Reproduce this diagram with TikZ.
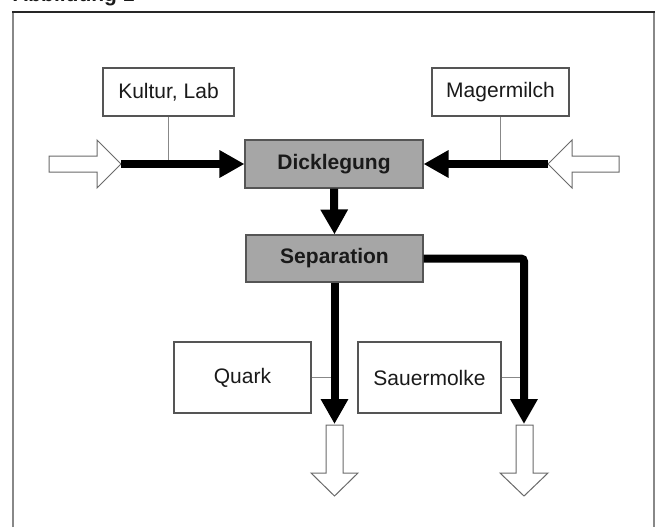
\documentclass[tikz,border=0pt]{standalone}
\usepackage{fontspec}
\setmainfont{Liberation Sans}
\usetikzlibrary{arrows.meta}
\definecolor{boxgray}{HTML}{A6A6A6}
\definecolor{edgegray}{HTML}{555555}
\definecolor{thingray}{HTML}{888888}
\definecolor{hollowgray}{HTML}{6A6A6A}
\definecolor{txt}{HTML}{1A1A1A}
\begin{document}
\begin{tikzpicture}[x=1pt,y=-1pt,
  font=\fontsize{21}{24}\selectfont,
  box/.style={draw=edgegray,line width=1.1pt,fill=white,text=txt,inner sep=0pt},
  procbox/.style={box,fill=boxgray,font=\fontsize{21}{24}\selectfont\bfseries},
  flow/.style={line width=8pt,-{Triangle[length=25pt,width=26pt]}},
  thinline/.style={draw=thingray,line width=1pt},
  hollow/.style={draw=hollowgray,line width=1pt,fill=white,line join=miter},
  frameline/.style={line width=2pt}]
\useasboundingbox (0,0) rectangle (655,527);
% heading (cropped at top)
\node[anchor=base west,inner sep=0pt,font=\fontsize{21}{24}\selectfont\bfseries,text=txt] (title) at (13,2) {Abbildung 1};
% frame
\draw[frameline,draw=thingray] (13,527) -- (13,12);
\draw[frameline,draw=thingray] (654,12) -- (654,527);
\draw[frameline,draw=black!85] (12,12) -- (655,12);
% nodes
\node[box,minimum width=131pt,minimum height=48pt] (kultur) at (168.5,92) {Kultur, Lab};
\node[box,minimum width=137pt,minimum height=48pt] (mager) at (500.5,92) {Magermilch};
\node[procbox,minimum width=178pt,minimum height=48pt] (dick) at (334,164) {Dicklegung};
\node[procbox,minimum width=177pt,minimum height=47pt] (sep) at (334.5,258.5) {Separation};
\node[box,minimum width=137pt,minimum height=71pt] (quark) at (242.5,377.5) {Quark};
\node[box,minimum width=143pt,minimum height=71pt] (molke) at (429.5,377.5) {Sauermolke};
% hollow input/output arrows
\draw[hollow] (49,156) -- (97,156) -- (97,140) -- (121,164) -- (97,188) -- (97,172) -- (49,172) -- cycle;
\coordinate (inL) at (121,164);
\draw[hollow] (619,156) -- (572,156) -- (572,140) -- (548,164) -- (572,188) -- (572,172) -- (619,172) -- cycle;
\coordinate (inR) at (548,164);
\draw[hollow] (326,425) -- (343,425) -- (343,473) -- (358,473) -- (334.5,496) -- (311,473) -- (326,473) -- cycle;
\coordinate (outQ) at (334.5,424);
\draw[hollow] (516,425) -- (533,425) -- (533,473) -- (548,473) -- (524,496) -- (500,473) -- (516,473) -- cycle;
\coordinate (outM) at (524,424);
% thin ties
\draw[thinline] (kultur.south) -- (kultur.south |- inL);
\draw[thinline] (mager.south) -- (mager.south |- inR);
\draw[thinline] (quark.east) -- (quark.east -| outQ);
\draw[thinline] (molke.east) -- (molke.east -| outM);
% flows
\draw[flow] (inL) -- (dick.west);
\draw[flow] (inR) -- (dick.east);
\draw[flow] (dick.south) -- (sep.north);
\draw[flow] (sep.south -| outQ) -- (outQ);
\draw[flow,rounded corners=3pt] (sep.east) -- (sep.east -| outM) -- (outM);
\end{tikzpicture}
\end{document}
